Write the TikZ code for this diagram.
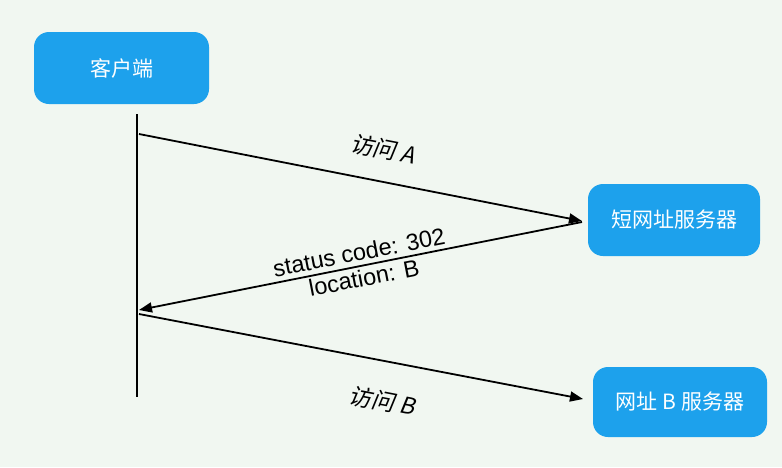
\documentclass[tikz,border=0pt]{standalone}
\usepackage{fontspec}
\setmainfont{Liberation Sans}
\newfontfamily\cjk{Noto Sans CJK SC}
\newfontfamily\cjkit[FakeSlant=0.2]{Noto Sans CJK SC}
\usetikzlibrary{arrows.meta}
\definecolor{bg}{HTML}{F1F7F1}
\definecolor{boxblue}{HTML}{1DA1EC}
\begin{document}
\begin{tikzpicture}[x=1pt,y=-1pt,
  box/.style={fill=boxblue, rounded corners=15pt, text=white, inner sep=0pt,
    font=\cjk\fontsize{21}{25}\selectfont},
  msg/.style={line width=1.8pt, -{Triangle[length=13pt,width=10pt]}},
  lbl/.style={inner sep=0pt, font=\fontsize{23.5}{26}\selectfont},
  lblcjk/.style={inner sep=0pt, font=\cjkit\fontsize{23}{26}\selectfont}]
\fill[bg] (0,0) rectangle (782,467);
\useasboundingbox (0,0) rectangle (782,467);

\node[box, minimum width=175pt, minimum height=72pt] (client) at (121.5,68) {客户端};
\node[box, minimum width=172pt, minimum height=72pt] (short) at (674,220) {短网址服务器};
\node[box, minimum width=174pt, minimum height=70pt] (target) at (680,402) {网址 B 服务器};

\coordinate (ltop) at (137,114);
\coordinate (lbot) at (137,397);
\draw[line width=2.4pt] (ltop) -- (lbot);

\coordinate (a1s) at (139,134);
\coordinate (a1e) at (582,221);
\coordinate (a2s) at (582,222);
\coordinate (a2e) at (139,310);
\coordinate (a3s) at (139,314);
\coordinate (a3e) at (583,399);

\draw[msg] (a1s) -- (a1e);
\draw[msg] (a2s) -- (a2e);
\draw[msg] (a3s) -- (a3e);

\node[lblcjk, rotate=-11] (la) at (383,149) {访问 A};
\node[lbl, rotate=11, align=center] (lb) at (361.5,265) {status code: 302\\location: B};
\node[lblcjk, rotate=-11] (lc) at (382,401) {访问 B};
\end{tikzpicture}
\end{document}
